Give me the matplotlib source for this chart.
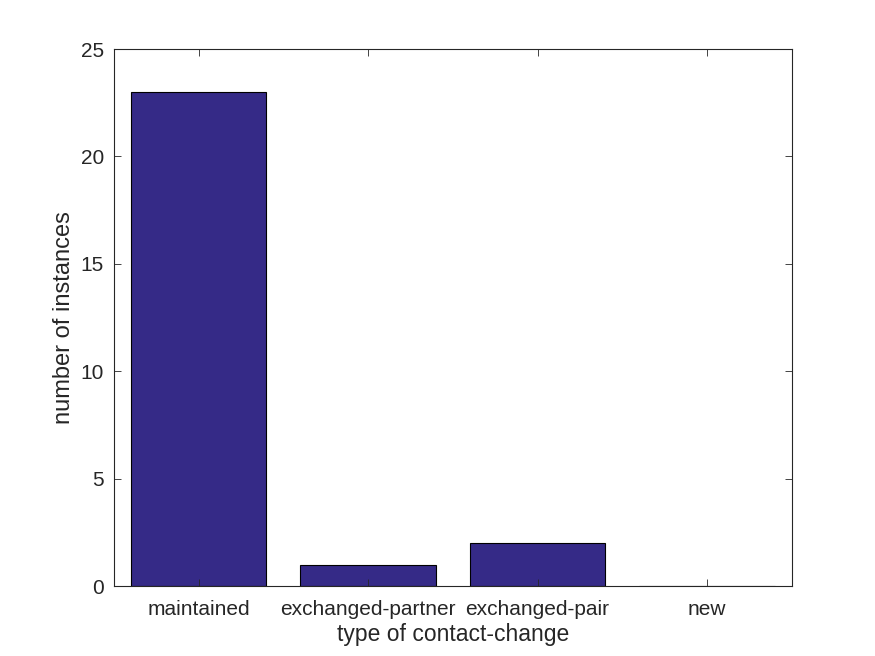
import matplotlib
matplotlib.use('Agg')
import matplotlib.pyplot as plt

categories = ['maintained', 'exchanged-partner', 'exchanged-pair', 'new']
counts = [23, 1, 2, 0]

plt.rcParams['font.family'] = ['Liberation Sans', 'DejaVu Sans']

fig = plt.figure(figsize=(8.75, 6.56), dpi=100)
ax = fig.add_axes([0.13, 0.1067, 0.775, 0.8186])
x = list(range(len(categories)))
ax.bar(x, counts, width=0.8, color='#352A87', edgecolor='black', linewidth=0.8)

ax.set_xlim(-0.5, 3.5)
ax.set_ylim(0, 25)
ax.set_xticks(x)
ax.set_xticklabels(categories)
ax.set_yticks([0, 5, 10, 15, 20, 25])
ax.tick_params(direction='in', top=True, right=True, length=5, width=0.6,
               labelsize=15, colors='#262626')
ax.tick_params(axis='x', pad=10)
ax.tick_params(axis='y', pad=7)
for s in ax.spines.values():
    s.set_linewidth(0.8)
    s.set_color('#262626')
ax.set_xlabel('type of contact-change', fontsize=16.5, color='#262626', labelpad=3)
ax.set_ylabel('number of instances', fontsize=17, color='#262626', labelpad=4)

fig.savefig('out.png', dpi=100)
